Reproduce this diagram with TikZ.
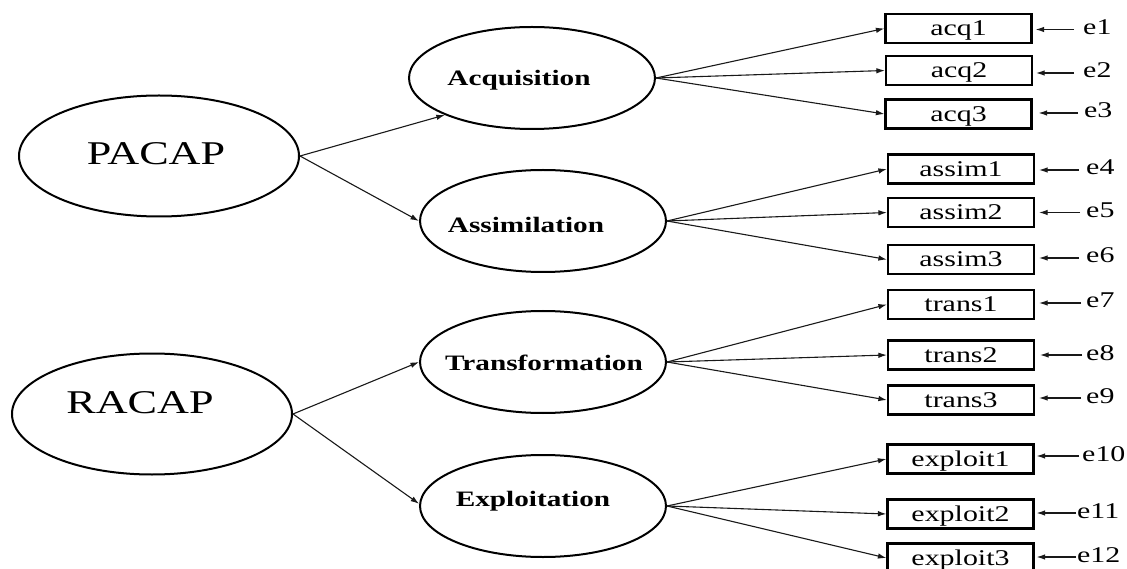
\documentclass[tikz,border=0pt]{standalone}
\usepackage{fontspec}
\setmainfont{Liberation Serif}[FakeStretch=1.33]
\usetikzlibrary{shapes.geometric,arrows.meta}
\begin{document}
\begin{tikzpicture}[x=1pt,y=-1pt,
  big/.style={ellipse, draw, line width=2pt, minimum width=280pt, minimum height=121pt, inner sep=0pt},
  lat/.style={ellipse, draw, line width=2pt, minimum width=246pt, minimum height=102pt, inner sep=0pt},
  obs/.style={draw, line width=2.2pt, minimum width=146pt, minimum height=29pt, inner sep=0pt,
    text height=15pt, text depth=0pt, font=\fontsize{22.5}{26}\selectfont},
  errlbl/.style={anchor=west, inner sep=0pt, text height=10pt, text depth=0pt, font=\fontsize{22.5}{26}\selectfont},
  latlbl/.style={anchor=base, inner sep=0pt, font=\fontsize{22}{26}\selectfont\bfseries},
  biglbl/.style={anchor=base, inner sep=0pt, font=\fontsize{33.2}{38}\selectfont},
  arr/.style={-{Latex[length=8.5pt,width=5.5pt]}, line width=1.1pt, black!90}]
\clip (0,0) rectangle (1127,569);
\fill[white] (0,0) rectangle (1127,569);

% latent variables
\node[big] (pacap) at (159,156) {};
\node[big] (racap) at (152,414) {};
\node[lat] (acq) at (532,78) {};
\node[lat] (assim) at (543,221) {};
\node[lat] (trans) at (543,362) {};
\node[lat] (expl) at (543,506) {};

\node[biglbl] (tpacap) at (156,165) {PACAP};
\node[biglbl] (tracap) at (140,413) {RACAP};
\node[latlbl] (tacq) at (519,86) {Acquisition};
\node[latlbl] (tassim) at (526,232.7) {Assimilation};
\node[latlbl] (ttrans) at (544,370) {Transformation};
\node[latlbl] (texpl) at (533,506.7) {Exploitation};

% observed variables
\node[obs] (acq1) at (958.5,28.5) {acq1};
\node[obs] (acq2) at (959,70.5) {acq2};
\node[obs] (acq3) at (958.5,114) {acq3};
\node[obs] (assim1) at (961,169) {assim1};
\node[obs] (assim2) at (961,212.5) {assim2};
\node[obs] (assim3) at (961,259.5) {assim3};
\node[obs] (trans1) at (961,304.5) {trans1};
\node[obs] (trans2) at (961,355) {trans2};
\node[obs] (trans3) at (961,400) {trans3};
\node[obs] (exploit1) at (960.5,459) {exploit1};
\node[obs] (exploit2) at (960.5,514) {exploit2};
\node[obs] (exploit3) at (960.5,558) {exploit3};

% error terms
\node[errlbl] (e1) at (1083,29.5) {e1};
\node[errlbl] (e2) at (1083,73) {e2};
\node[errlbl] (e3) at (1084,113) {e3};
\node[errlbl] (e4) at (1086,170) {e4};
\node[errlbl] (e5) at (1086,212.5) {e5};
\node[errlbl] (e6) at (1086,258) {e6};
\node[errlbl] (e7) at (1086,303) {e7};
\node[errlbl] (e8) at (1086,355) {e8};
\node[errlbl] (e9) at (1086,398) {e9};
\node[errlbl] (e10) at (1082,456) {e10};
\node[errlbl] (e11) at (1077,513) {e11};
\node[errlbl] (e12) at (1077,557) {e12};

% structural paths
\draw[arr] (pacap.east) -- (acq.203);
\draw[arr] (pacap.east) -- (assim.west);
\draw[arr] (racap.east) -- (trans.west);
\draw[arr] (racap.east) -- (expl.179);

% loadings
\foreach \l/\o in {acq/acq1,acq/acq2,acq/acq3,assim/assim1,assim/assim2,assim/assim3,
                   trans/trans1,trans/trans2,trans/trans3,expl/exploit1,expl/exploit2,expl/exploit3}
  \draw[arr] (\l.east) -- (\o.west);

% error arrows
\foreach \e/\o/\g/\t in {e1/acq1/9/3,e2/acq2/9/3,e3/acq3/6/6,e4/assim1/7/4,e5/assim2/6/4,e6/assim3/7/4,
                          e7/trans1/5/4,e8/trans2/4/5,e9/trans3/5/4,e10/exploit1/3/2,e11/exploit2/1/2,e12/exploit3/1/2}
  \draw[arr, shorten <=\g pt, shorten >=\t pt] (\e.west) -- (\e.west -| \o.east);
\end{tikzpicture}
\end{document}
